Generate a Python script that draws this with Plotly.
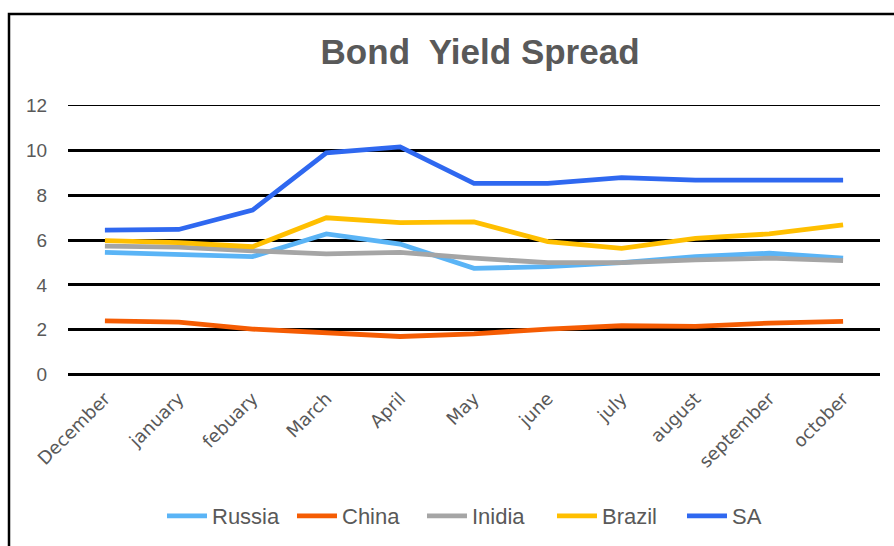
import plotly.graph_objects as go

months = ["December", "january", "febuary", "March", "April", "May",
          "june", "july", "august", "september", "october"]
russia = [5.45, 5.36, 5.26, 6.27, 5.82, 4.74, 4.81, 4.99, 5.26, 5.41, 5.19]
china = [2.40, 2.34, 2.03, 1.85, 1.70, 1.82, 2.03, 2.18, 2.15, 2.30, 2.37]
india = [5.73, 5.68, 5.52, 5.38, 5.45, 5.19, 4.99, 4.99, 5.11, 5.19, 5.08]
brazil = [5.97, 5.88, 5.70, 6.99, 6.77, 6.81, 5.93, 5.63, 6.07, 6.27, 6.67]
sa = [6.44, 6.47, 7.33, 9.88, 10.15, 8.52, 8.52, 8.78, 8.67, 8.67, 8.67]

series = [("Russia", russia, "#5AB4F6"),
          ("China", china, "#F55C03"),
          ("Inidia", india, "#A5A5A5"),
          ("Brazil", brazil, "#FFBF00"),
          ("SA", sa, "#2F68F0")]

yticks_main = [0, 2, 4, 6, 8, 10]
ytick_top = [12]

GRAY = "#595959"
FONT = "Liberation Sans, Arial, sans-serif"
YR = [-0.06, 12.06]

fig = go.Figure()
for name, vals, color in series:
    fig.add_trace(go.Scatter(x=months, y=vals, name=name, mode="lines",
                             line=dict(color=color, width=4.8)))

# invisible trace to activate the second y axis (top gridline)
fig.add_trace(go.Scatter(x=months[:1], y=[12], yaxis="y2", mode="lines",
                         showlegend=False, hoverinfo="skip",
                         line=dict(color="rgba(0,0,0,0)")))

fig.update_layout(
    width=894, height=546,
    margin=dict(l=68, r=14, t=104, b=170, autoexpand=False),
    paper_bgcolor="white", plot_bgcolor="white",
    font=dict(family=FONT, color=GRAY),
    title=dict(text="<b>Bond  Yield Spread</b>", x=0.537, xanchor="center",
               y=0.905, yanchor="middle",
               font=dict(size=35, color=GRAY, family=FONT)),
    xaxis=dict(type="category", range=[-0.5, 10.5], showgrid=False,
               zeroline=False, showline=False, tickangle=-45, automargin=False,
               tickfont=dict(size=18, color=GRAY, family="DejaVu Sans, sans-serif"),
               ticks="outside", ticklen=4, tickcolor="white"),
    yaxis=dict(range=YR, tickvals=yticks_main, showgrid=True, automargin=False,
               gridcolor="black", gridwidth=3, zeroline=False, showline=False,
               tickfont=dict(size=19, color=GRAY),
               ticks="outside", ticklen=16, tickcolor="white"),
    yaxis2=dict(range=YR, tickvals=ytick_top, overlaying="y", side="left",
                showgrid=True, gridcolor="black", gridwidth=1.3, zeroline=False,
                automargin=False, showline=False,
                tickfont=dict(size=19, color=GRAY),
                ticks="outside", ticklen=16, tickcolor="white"),
    legend=dict(orientation="h", x=0.516, xanchor="center", y=-0.515,
                yanchor="middle", font=dict(size=22, color=GRAY),
                itemwidth=40, tracegroupgap=0,
                entrywidthmode="pixels", entrywidth=75),
    showlegend=True,
)

# outer chart frame
fig.add_shape(type="rect", xref="paper", yref="paper",
              x0=(9 - 68) / 812, x1=(905 - 68) / 812,
              y0=(375 - 560) / 272, y1=(375 - 13) / 272,
              line=dict(color="black", width=2.5), layer="below")

fig.write_html("out.html")
